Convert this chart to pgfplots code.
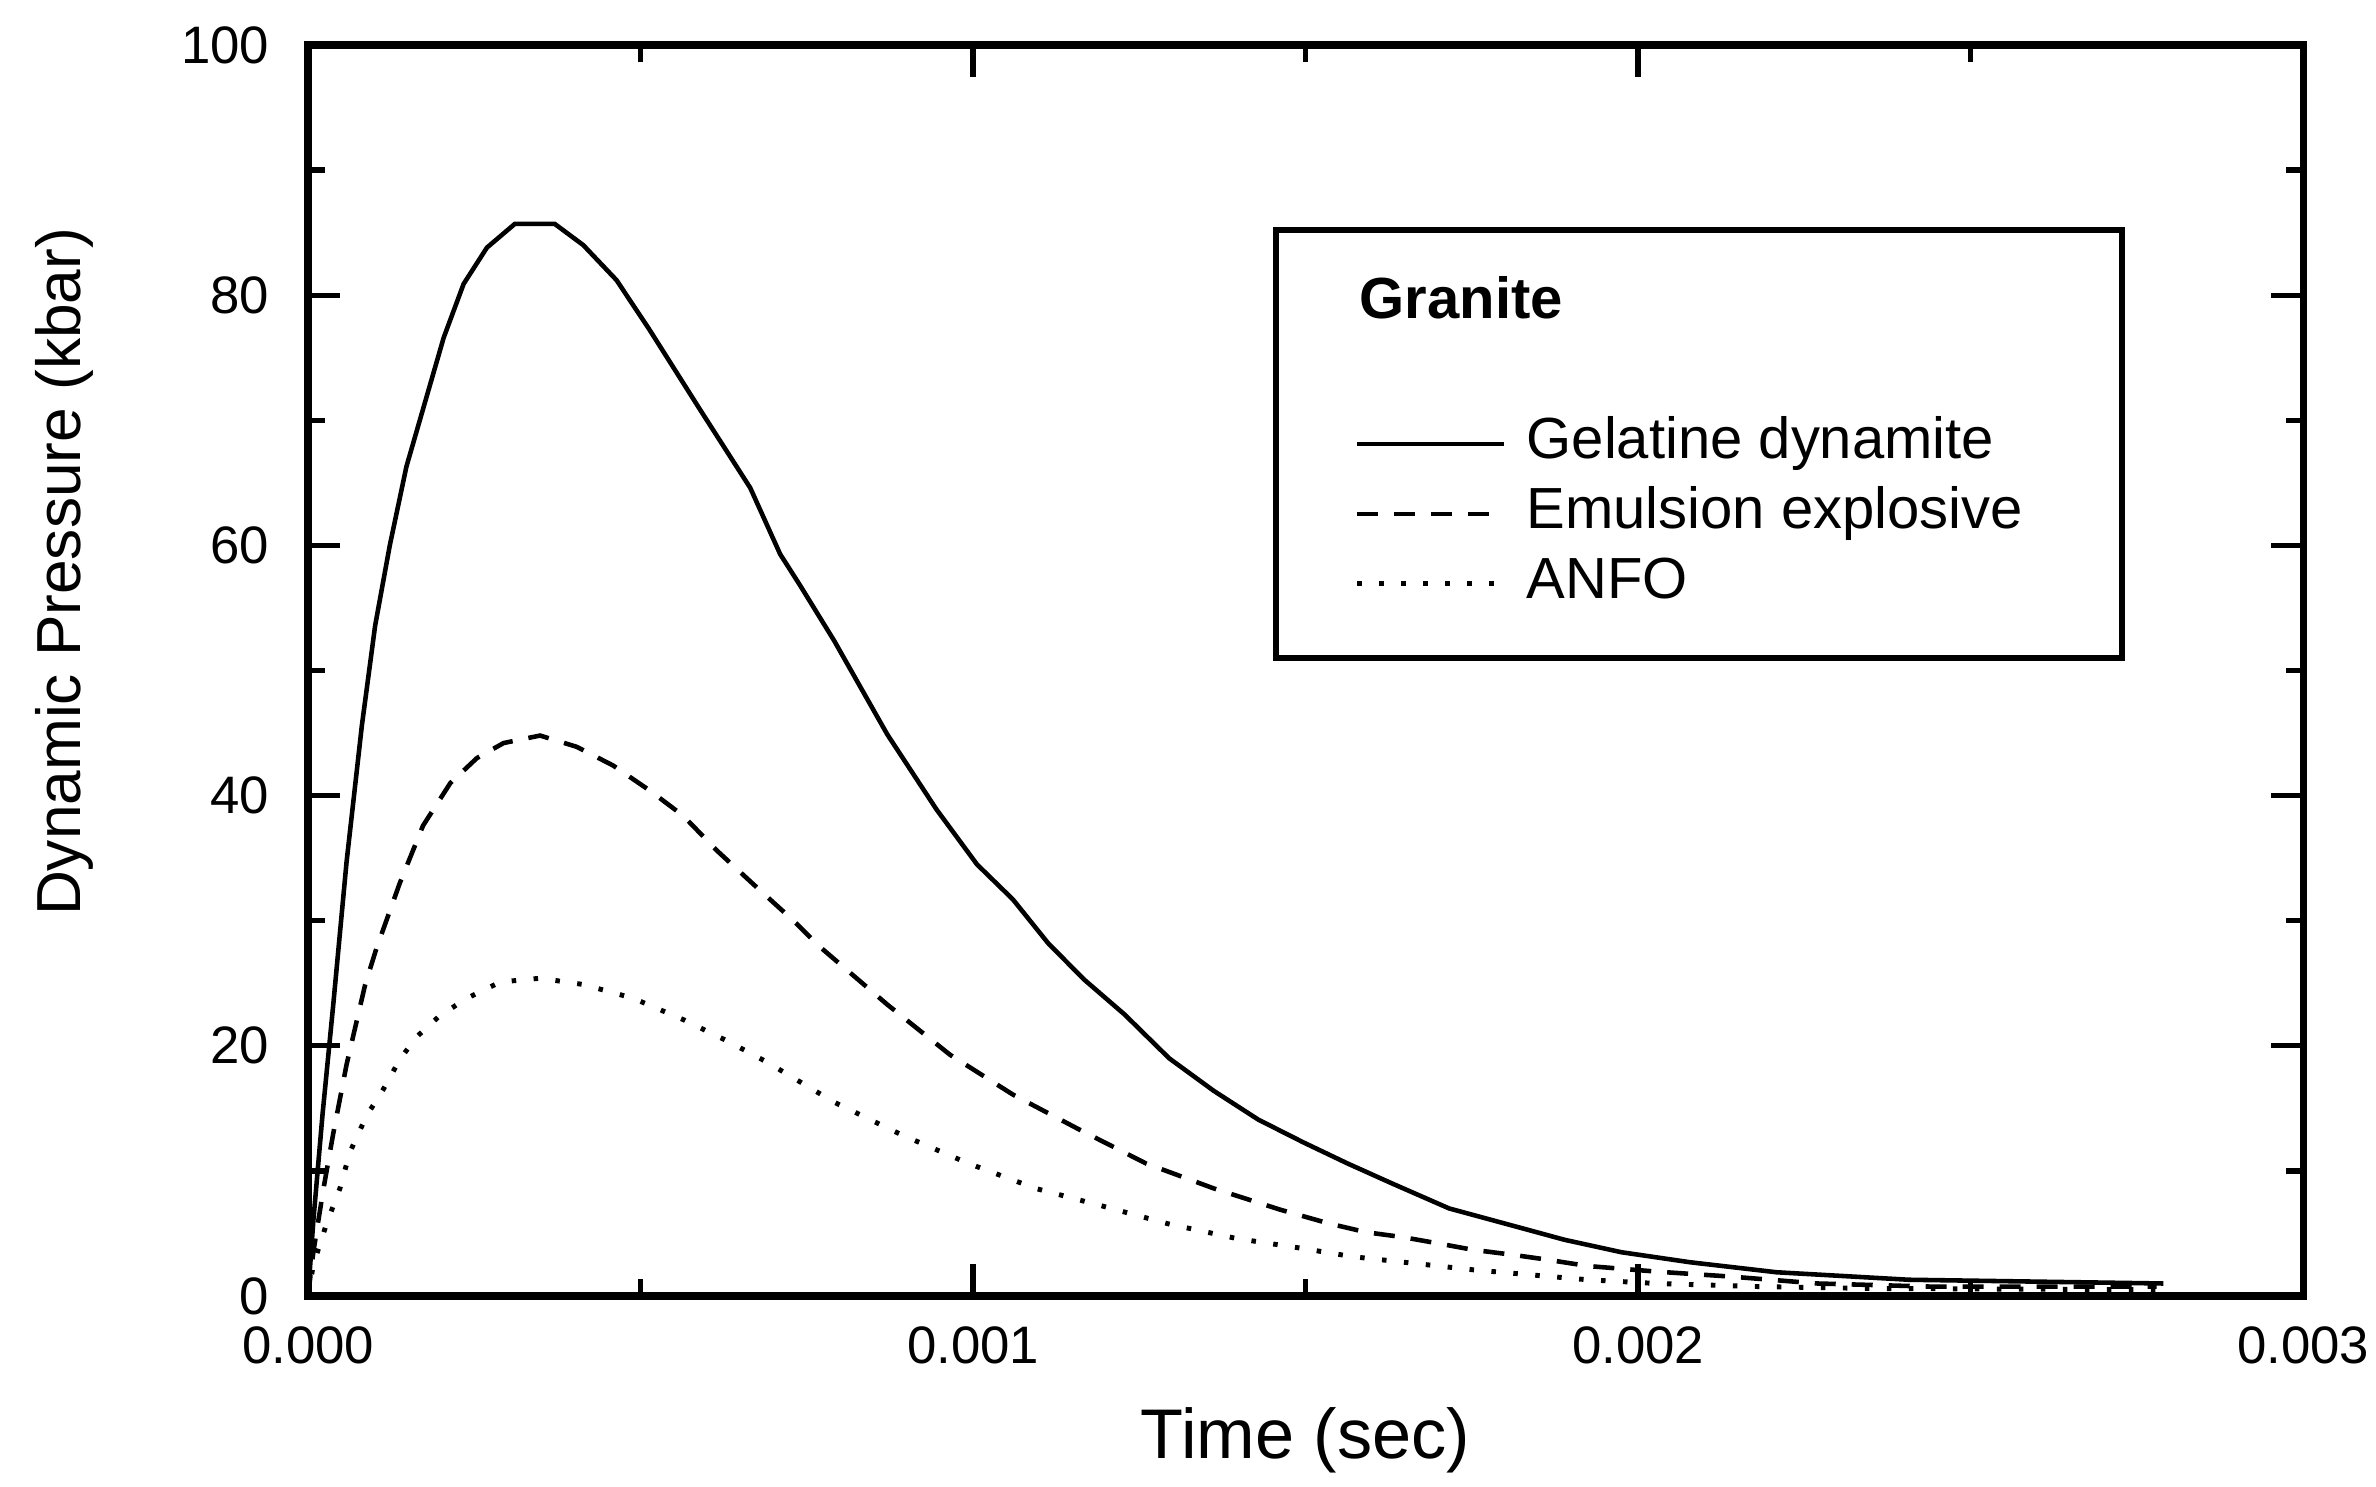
\documentclass[border=0pt]{standalone}
\usepackage{pgfplots}
\pgfplotsset{compat=1.18}
\usepackage{fontspec}
\setmainfont{Liberation Sans}

\begin{document}
\begin{tikzpicture}
\useasboundingbox (0,0) rectangle (23.76cm,14.86cm);
\begin{axis}[
  at={(3.08cm,1.90cm)}, anchor=south west,
  scale only axis, width=19.95cm, height=12.51cm,
  xmin=0, xmax=0.003, ymin=0, ymax=100,
  xtick={0,0.001,0.002,0.003},
  xticklabels={\mbox{0.000},\mbox{0.001},\mbox{0.002},\mbox{0.003}},
  scaled x ticks=false,
  ytick={0,20,40,60,80,100},
  minor x tick num=1, minor y tick num=1,
  tick align=inside, xtick pos=both, ytick pos=both,
  xticklabel pos=lower, yticklabel pos=left,
  major tick length=3.2mm, minor tick length=1.7mm,
  every tick/.append style={line width=1.5pt, black},
  axis line style={line width=2pt},
  /pgf/number format/assume math mode=true,
  tick label style={font=\fontsize{15}{18}\selectfont},
  yticklabel style={inner sep=0pt, xshift=-3.8mm},
  xticklabel style={inner sep=0pt, yshift=-3mm},
  xlabel={Time (sec)},
  ylabel={Dynamic Pressure (kbar)},
  xlabel style={at={(axis description cs:0.5,-0.115)}, anchor=center, font=\fontsize{20}{24}\selectfont},
  ylabel style={at={(axis description cs:-0.1223,0.5787)}, anchor=center, font=\fontsize{17.7}{21}\selectfont},
  legend cell align=left,
  legend image code/.code={\draw[#1] (0mm,0mm) -- (14.7mm,0mm);},
  legend style={at={(axis description cs:0.4837,0.8545)}, anchor=north west,
    draw=black, line width=1.6pt, fill=white,
    inner xsep=7.9mm, inner ysep=3.9mm,
    font=\fontsize{16.5}{19}\selectfont,
    cells={anchor=west},
    nodes={inner xsep=2mm, inner ysep=0.8mm, text height=4.2mm, text depth=1.2mm}},
]
\addlegendimage{empty legend}
\addlegendentry{\hspace*{-16.7mm}\textbf{Granite}}
\addlegendimage{empty legend}
\addlegendentry{~}

\addplot[black, line width=1.3pt] coordinates {
(0,0) (0.000008,6.0) (0.000022,14.6) (0.000038,23.3) (0.000058,34.7)
(0.000081,45.6) (0.000101,53.6) (0.000123,60.0) (0.000148,66.3)
(0.000173,70.9) (0.000204,76.6) (0.000234,80.9) (0.000269,83.8)
(0.000311,85.7) (0.000371,85.7) (0.000414,84.0) (0.000464,81.2)
(0.000514,77.2) (0.000589,70.9) (0.000665,64.6) (0.00071,59.3)
(0.00074,56.8) (0.000791,52.4) (0.000871,44.9) (0.000945,38.9)
(0.001006,34.5) (0.00106,31.7) (0.001113,28.2) (0.001167,25.3)
(0.001228,22.5) (0.001295,19.0) (0.001362,16.4) (0.001429,14.1)
(0.001496,12.3) (0.001563,10.6) (0.00163,9.0) (0.001716,7.0)
(0.00182,5.5) (0.001889,4.5) (0.001975,3.5) (0.002078,2.7)
(0.002208,1.9) (0.002407,1.3) (0.00279,1.0)
};
\addlegendentry{Gelatine dynamite}

\addplot[black, line width=1.3pt, dash pattern=on 2.1mm off 1.6mm] coordinates {
(0,0) (0.000008,3.5) (0.000023,8.5) (0.000038,13.0) (0.000058,18.5)
(0.000086,24.9) (0.000103,27.8) (0.000138,33.0) (0.000173,37.6)
(0.000214,41.0) (0.000254,43.0) (0.000294,44.2) (0.000349,44.8)
(0.000404,43.9) (0.000459,42.4) (0.000514,40.4) (0.000564,38.4)
(0.000615,35.6) (0.00067,32.9) (0.00073,30.0) (0.00077,27.9)
(0.000871,23.3) (0.000965,19.3) (0.00106,16.1) (0.00116,13.3)
(0.00126,10.6) (0.001362,8.6) (0.001462,6.9) (0.001535,5.8)
(0.001591,5.1) (0.001647,4.7) (0.0017,4.2) (0.001751,3.7)
(0.001811,3.3) (0.001864,2.9) (0.001924,2.4) (0.002028,1.95)
(0.00214,1.55) (0.00227,1.0) (0.002442,0.75) (0.00278,0.75)
};
\addlegendentry{Emulsion explosive}

\addplot[black, line width=1.4pt, dash pattern=on 0.45mm off 1.75mm] coordinates {
(0,0) (0.000008,2.5) (0.000028,5.8) (0.000048,8.6) (0.000063,11.5)
(0.000088,14.4) (0.000113,16.5) (0.000138,18.9) (0.000163,20.7)
(0.000198,22.4) (0.000239,23.8) (0.000289,25.1) (0.000349,25.4)
(0.000414,24.9) (0.000489,23.8) (0.000564,22.1) (0.00063,20.4)
(0.00069,18.7) (0.000791,15.5) (0.000892,12.9) (0.000993,10.6)
(0.001094,8.6) (0.001194,7.2) (0.001295,5.75) (0.001396,4.6)
(0.001496,3.8) (0.00157,3.15) (0.001665,2.6) (0.001751,2.1)
(0.001837,1.7) (0.001924,1.3) (0.002028,1.0) (0.002183,0.75)
(0.002355,0.6) (0.00278,0.5)
};
\addlegendentry{ANFO}
\end{axis}
\end{tikzpicture}
\end{document}
